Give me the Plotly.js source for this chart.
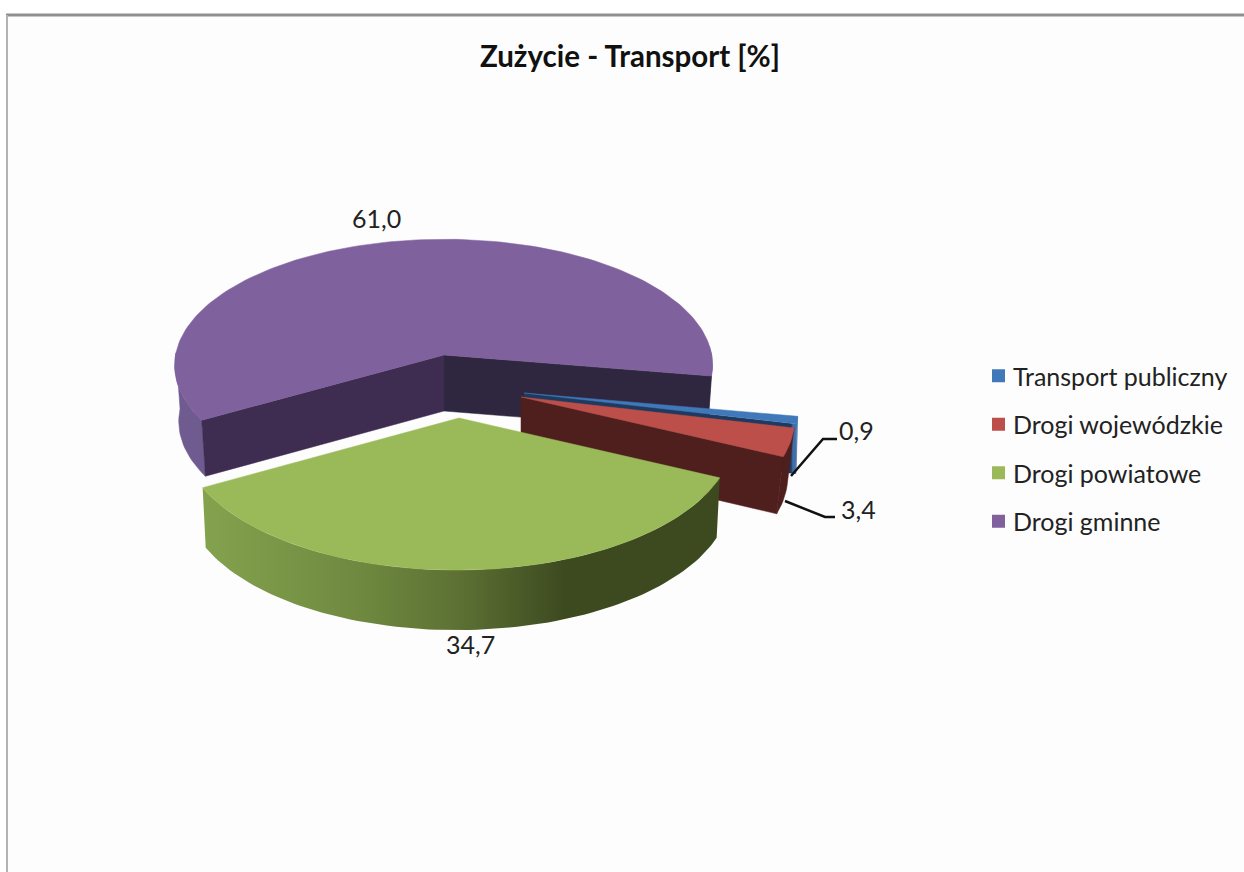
<!DOCTYPE html>
<html>
<head>
<meta charset="utf-8">
<script src="https://cdn.plot.ly/plotly-3.0.1.min.js"></script>
<style>html,body{margin:0;padding:0;background:#fff}</style>
</head>
<body>
<div id="chart" style="width:1244px;height:872px"></div>
<script>
// ---- data ----
const categories = ['Transport publiczny', 'Drogi wojewódzkie', 'Drogi powiatowe', 'Drogi gminne'];
const values = [0.9, 3.4, 34.7, 61.0];
const valueLabels = ['0,9', '3,4', '34,7', '61,0'];
const topColors = ['#4178b9', '#bd4f4b', '#9aba59', '#7f619e'];
const faceColors = ['#1f3a5f', '#4f1f1e', '#3d4a20', '#3e2d50'];
const faceColorsAlt = ['#1f3a5f', '#4f1f1e', '#3d4a20', '#2f2740'];
const rimColors = ['#3f6fa8', '#4f1f1e', null, '#6f5b8f'];

// ---- projection of an exploded 3-D pie (each slice has its own pull) ----
const startAngle = 8.6; // degrees clockwise from 3 o'clock
const geo = [
  {cx: 524, cy: 393, rx: 271, ry: 131, k: 0.1386, tilt: 0.012, shear: 0,     depth: 50, bs: 0.995},
  {cx: 521, cy: 397, rx: 271, ry: 131, k: 0.1386, tilt: 0.012, shear: 0,     depth: 57, bs: 0.975},
  {cx: 459, cy: 418, rx: 273, ry: 131, k: 0.1386, tilt: 0.012, shear: -0.06, depth: 60, bs: 0.988},
  {cx: 444, cy: 355, rx: 268, ry: 125, k: 0.08,   tilt: 0.008, shear: -0.04, depth: 56, bs: 0.985}
];
const total = values.reduce((a, b) => a + b, 0);
let acc = startAngle;
const spans = values.map(v => { const s = [acc, acc + v / total * 360]; acc = s[1]; return s; });

function rimPoint(g, deg) {
  const a = deg * Math.PI / 180, u = Math.cos(a), v = Math.sin(a), d = 1 - g.k * v;
  const dx0 = g.rx * u / d, dy = g.ry * v / d;
  return [g.cx + dx0 + g.shear * dy, g.cy + dy + g.tilt * dx0];
}
function lower(g, p) { return [g.cx + (p[0] - g.cx) * g.bs, p[1] + g.depth]; }
function arc(g, a0, a1) {
  const n = Math.max(2, Math.ceil(Math.abs(a1 - a0) / 1.5)), out = [];
  for (let i = 0; i <= n; i++) out.push(rimPoint(g, a0 + (a1 - a0) * i / n));
  return out;
}
function poly(pts, color, extra) {
  return Object.assign({
    type: 'scatter', mode: 'lines', x: pts.map(p => p[0]), y: pts.map(p => p[1]),
    fill: 'toself', fillcolor: color, line: {width: 0.5, color: color},
    hoverinfo: 'skip', showlegend: false
  }, extra || {});
}
function face(g, deg, color, extra) {
  const apex = [g.cx, g.cy], p = rimPoint(g, deg);
  return poly([apex, p, lower(g, p), lower(g, apex), apex], color, extra);
}
const greenGradient = {
  type: 'horizontal',
  colorscale: [[0, '#84a24e'], [0.3, '#6f8a40'], [0.5, '#5c7033'], [0.7, '#3d4a20'], [1, '#3d4a20']]
};
const blueFaceGradient = {
  type: 'horizontal',
  colorscale: [[0, '#1f3a5f'], [0.978, '#1f3a5f'], [0.985, '#3f6fa8'], [1, '#3f6fa8']]
};
function rims(i) {
  const g = geo[i], s = spans[i], out = [];
  [[-5, 180], [355, 540]].forEach(win => {
    const a0 = Math.max(s[0], win[0]), a1 = Math.min(s[1], win[1]);
    if (a1 <= a0) return;
    const top = arc(g, a0, a1), bottom = top.map(p => lower(g, p)).reverse();
    const pts = top.concat(bottom, [top[0]]);
    if (rimColors[i]) out.push(poly(pts, rimColors[i]));
    else out.push(poly(pts, '#5c7033', {fillgradient: greenGradient, line: {width: 0}}));
  });
  return out;
}
function slice(i) {
  const g = geo[i], s = spans[i];
  const topPts = [[g.cx, g.cy]].concat(arc(g, s[0], s[1]), [[g.cx, g.cy]]);
  let faces = [];
  if (i === 3) faces = [face(g, s[1], faceColorsAlt[i]), face(g, s[0], faceColors[i])];
  if (i === 1) faces = [face(g, s[1], faceColors[i])];
  if (i === 0) faces = [face(g, s[1], faceColors[i], {fillgradient: blueFaceGradient, line: {width: 0}})];
  return rims(i).concat(faces, [poly(topPts, topColors[i])]);
}
// paint back to front
const traces = [].concat(slice(3), slice(0), slice(1), slice(2));

// legend entries
categories.forEach((c, i) => traces.push({
  type: 'scatter', mode: 'markers', x: [null], y: [null], name: c, legendgroup: 'g' + i,
  marker: {symbol: 'square', size: 13, color: topColors[i]}, hoverinfo: 'skip'
}));

const ink = '#222222';
const labelFont = {family: 'Lato, "Open Sans", sans-serif', size: 25, color: ink};
const ann = (text, x, y) => ({text, x, y, xref: 'x', yref: 'y', showarrow: false, font: labelFont});

const layout = {
  width: 1244, height: 872,
  margin: {l: 0, r: 0, t: 0, b: 0, pad: 0},
  paper_bgcolor: '#ffffff', plot_bgcolor: 'rgba(0,0,0,0)',
  title: {
    text: '<b>Zużycie - Transport [%]</b>',
    x: 630 / 1244, xanchor: 'center', xref: 'paper',
    y: 1 - 57 / 872, yanchor: 'middle', yref: 'paper',
    font: {family: 'Lato, "Open Sans", sans-serif', size: 29.5, color: '#111111'}
  },
  xaxis: {range: [0, 1244], visible: false, fixedrange: true},
  yaxis: {range: [872, 0], visible: false, fixedrange: true},
  showlegend: true,
  legend: {
    x: 973 / 1244, xanchor: 'left', y: 1 - 353 / 872, yanchor: 'top',
    bgcolor: 'rgba(0,0,0,0)', traceorder: 'grouped', tracegroupgap: 13,
    font: {family: 'Lato, "Open Sans", sans-serif', size: 25, color: ink}
  },
  annotations: [
    ann(valueLabels[3], 376, 218),
    ann(valueLabels[2], 470, 644),
    ann(valueLabels[0], 856, 430),
    ann(valueLabels[1], 858, 509)
  ],
  shapes: [
    {type: 'rect', xref: 'x', yref: 'y', x0: 8, x1: 1244, y0: 16, y1: 872, fillcolor: '#fdfdfd', line: {width: 0}, layer: 'below'},
    {type: 'line', xref: 'x', yref: 'y', x0: 6, x1: 1244, y0: 15, y1: 15, line: {color: '#8f8f8f', width: 3}},
    {type: 'line', xref: 'x', yref: 'y', x0: 7, x1: 7, y0: 15, y1: 872, line: {color: '#b3b3b3', width: 2}},
    {type: 'path', xref: 'x', yref: 'y', path: 'M791 476 L823 439 L837 439', line: {color: '#111111', width: 2.5}, layer: 'above'},
    {type: 'path', xref: 'x', yref: 'y', path: 'M785 501 L825 517 L835 517', line: {color: '#111111', width: 2.5}, layer: 'above'}
  ]
};
Plotly.newPlot('chart', traces, layout, {staticPlot: true, displayModeBar: false}).then(() => {
  // the reference's swatches sit closer to their text
  document.querySelectorAll('#chart .legendsymbols').forEach(n => n.setAttribute('transform', 'translate(5.5,0)'));
});
</script>
</body>
</html>
